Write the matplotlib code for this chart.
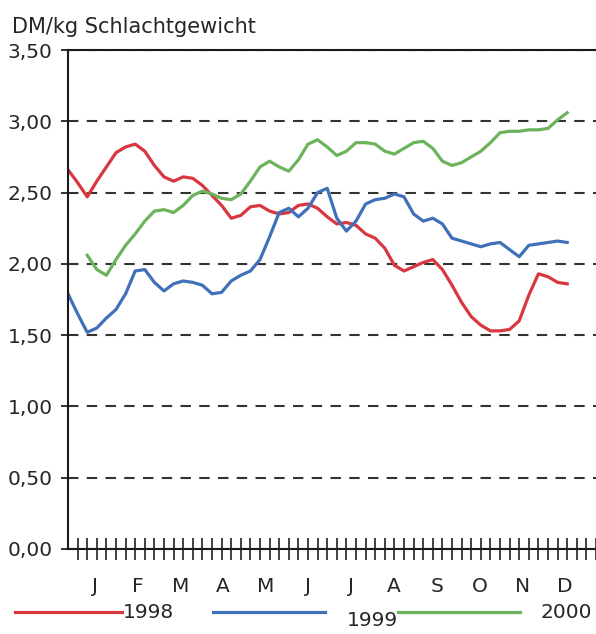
import numpy as np
import matplotlib.pyplot as plt
from matplotlib.lines import Line2D
from matplotlib.ticker import FuncFormatter

plt.rcParams["font.family"] = "DejaVu Sans"

# weekly prices, DM per kg slaughter weight
weeks = list(range(53))
price_1998 = [2.66, 2.57, 2.47, 2.58, 2.68, 2.78, 2.82, 2.84, 2.79, 2.69,
              2.61, 2.58, 2.61, 2.60, 2.55, 2.48, 2.41, 2.32, 2.34, 2.40,
              2.41, 2.37, 2.35, 2.36, 2.41, 2.42, 2.39, 2.33, 2.28, 2.29,
              2.27, 2.21, 2.18, 2.11, 1.99, 1.95, 1.98, 2.01, 2.03, 1.96,
              1.85, 1.73, 1.63, 1.57, 1.53, 1.53, 1.54, 1.60, 1.78, 1.93,
              1.91, 1.87, 1.86]
price_1999 = [1.79, 1.65, 1.52, 1.55, 1.62, 1.68, 1.79, 1.95, 1.96, 1.87,
              1.81, 1.86, 1.88, 1.87, 1.85, 1.79, 1.80, 1.88, 1.92, 1.95,
              2.03, 2.19, 2.36, 2.39, 2.33, 2.39, 2.50, 2.53, 2.32, 2.23,
              2.30, 2.42, 2.45, 2.46, 2.49, 2.47, 2.35, 2.30, 2.32, 2.28,
              2.18, 2.16, 2.14, 2.12, 2.14, 2.15, 2.10, 2.05, 2.13, 2.14,
              2.15, 2.16, 2.15]
weeks_2000 = list(range(2, 53))
price_2000 = [2.06, 1.96, 1.92, 2.03, 2.13, 2.21, 2.30, 2.37, 2.38, 2.36,
              2.41, 2.48, 2.51, 2.49, 2.46, 2.45, 2.49, 2.58, 2.68, 2.72,
              2.68, 2.65, 2.73, 2.84, 2.87, 2.82, 2.76, 2.79, 2.85, 2.85,
              2.84, 2.79, 2.77, 2.81, 2.85, 2.86, 2.81, 2.72, 2.69, 2.71,
              2.75, 2.79, 2.85, 2.92, 2.93, 2.93, 2.94, 2.94, 2.95, 3.01,
              3.06]
months = ["J", "F", "M", "A", "M", "J", "J", "A", "S", "O", "N", "D"]
yticks = [0.0, 0.5, 1.0, 1.5, 2.0, 2.5, 3.0, 3.5]

RED = "#d8373f"
BLUE = "#3f70b9"
GREEN = "#6cb35c"
TXT = "#262626"

fig = plt.figure(figsize=(5.96, 6.34), dpi=100)
ax = fig.add_axes([68 / 596, 1 - 549 / 634, 528 / 596, 499 / 634])

ax.plot(weeks, price_1998, color=RED, lw=2.3, solid_joinstyle="round")
ax.plot(weeks, price_1999, color=BLUE, lw=2.3, solid_joinstyle="round")
ax.plot(weeks_2000, price_2000, color=GREEN, lw=2.3, solid_joinstyle="round")

ax.set_xlim(0, 55)
ax.set_ylim(0, 3.5)

ax.set_yticks(yticks)
ax.yaxis.set_major_formatter(FuncFormatter(lambda v, p: f"{v:.2f}".replace(".", ",")))
ax.tick_params(axis="y", direction="out", length=5, width=1.3, pad=6,
               labelsize=14.5, labelcolor=TXT, color="#222")
ax.grid(axis="y", linestyle=(0, (5, 4)), color="#333333", lw=1.5)
ax.grid(axis="x", visible=False)

# weekly ticks across the axis, month letters as minor tick labels
ax.set_xticks(np.arange(1, 56))
ax.tick_params(axis="x", which="major", direction="inout", length=16,
               width=1.3, labelbottom=False, color="#333")
ax.set_xticks(2.8 + 4.45 * np.arange(12), minor=True)
ax.set_xticklabels(months, minor=True)
ax.tick_params(axis="x", which="minor", length=0, pad=20, labelsize=14.5,
               labelcolor=TXT)

for side in ("left", "top", "bottom"):
    ax.spines[side].set_linewidth(1.5)
    ax.spines[side].set_color("#1a1a1a")
ax.spines["right"].set_visible(False)

fig.text(12 / 596, 1 - 27 / 634, "DM/kg Schlachtgewicht", fontsize=15,
         color=TXT, va="center", ha="left")

# legend along the bottom
legend_items = [
    (RED, "1998", 15, 122, 123, 613),
    (BLUE, "1999", 213, 325, 347, 620),
    (GREEN, "2000", 398, 520, 541, 613),
]
for color, label, x0, x1, xt, yt in legend_items:
    y = 1 - 612 / 634
    fig.add_artist(Line2D([x0 / 596, x1 / 596], [y, y], color=color, lw=2.3,
                          transform=fig.transFigure))
    fig.text(xt / 596, 1 - yt / 634, label, fontsize=14.5, color=TXT,
             va="center", ha="left")

fig.savefig("out.png", dpi=100, facecolor="white")
